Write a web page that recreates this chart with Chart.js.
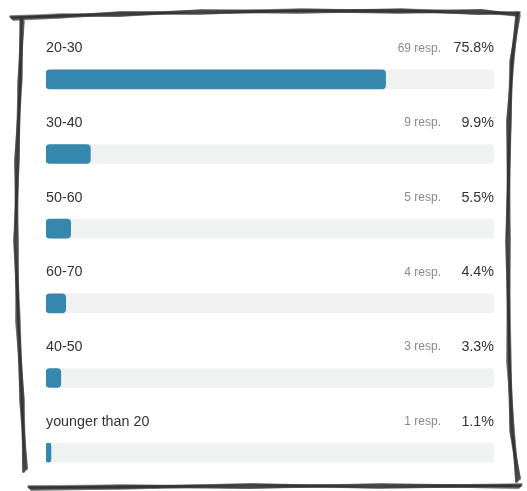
<!DOCTYPE html>
<html>
<head>
<meta charset="utf-8">
<script src="https://cdn.jsdelivr.net/npm/chart.js@4.4.0/dist/chart.umd.min.js"></script>
<style>
  html, body { margin: 0; padding: 0; background: #fff; }
  #wrap { width: 527px; height: 491px; position: relative; }
</style>
</head>
<body>
<div id="wrap"><canvas id="canvas"></canvas></div>
<script>
const categories = ['20-30', '30-40', '50-60', '60-70', '40-50', 'younger than 20'];
const responses = [69, 9, 5, 4, 3, 1];
const percents = [75.8, 9.9, 5.5, 4.4, 3.3, 1.1];
const track = [100, 100, 100, 100, 100, 100];

// the hand drawn frame round the card
function sketchLine(ctx, pts) {
    for (let pass = 0; pass < 7; pass++) {
        ctx.beginPath();
        pts.forEach(function (p, i) {
            let j = Math.sin(i * 2.3 + pass * 1.7) * 1.6;
            if (i === 0) ctx.moveTo(p[0] + j, p[1] + j);
            else ctx.lineTo(p[0] + j, p[1] - j);
        });
        ctx.lineWidth = 2.6;
        ctx.strokeStyle = pass % 2 ? 'rgba(80,80,80,0.5)' : 'rgba(40,40,40,0.55)';
        ctx.stroke();
    }
}

const framePlugin = {
    id: 'frame',
    afterDraw: function (chart) {
        let ctx = chart.ctx;
        ctx.save();
        ctx.lineCap = 'round';
        sketchLine(ctx, [[12, 18], [60, 16], [120, 14], [200, 12], [300, 11], [400, 11], [480, 12], [518, 14]]);
        sketchLine(ctx, [[22, 20], [20, 80], [17, 160], [16, 240], [18, 320], [22, 400], [25, 470]]);
        sketchLine(ctx, [[518, 14], [512, 60], [509, 120], [508, 240], [509, 360], [512, 430], [518, 480]]);
        sketchLine(ctx, [[30, 488], [120, 487], [250, 486], [380, 486], [520, 486]]);
        ctx.restore();
    }
};

const labelPlugin = {
    id: 'rowLabels',
    afterDatasetsDraw: function (chart) {
        let ctx = chart.ctx;
        let y = chart.scales.y;
        let x = chart.scales.x;
        ctx.save();
        ctx.textBaseline = 'middle';
        categories.forEach(function (c, i) {
            let cy = y.getPixelForValue(i) - 31;
            ctx.font = '14.3px "Liberation Sans", Arial, sans-serif';
            ctx.fillStyle = '#333';
            ctx.textAlign = 'left';
            ctx.fillText(c, x.left, cy);
            ctx.textAlign = 'right';
            ctx.fillText(percents[i] + '%', x.right, cy);
            ctx.font = '12px "Liberation Sans", Arial, sans-serif';
            ctx.fillStyle = '#8a8a8a';
            ctx.fillText(responses[i] + ' resp.', x.right - 53, cy);
        });
        ctx.restore();
    }
};

const ctx = document.getElementById('canvas').getContext('2d');
new Chart(ctx, {
    type: 'bar',
    data: {
        labels: categories,
        datasets: [{
            data: percents,
            backgroundColor: '#3587ad',
            borderRadius: 4,
            borderSkipped: false,
            barThickness: 19,
            grouped: false,
            order: 0
        }, {
            data: track,
            backgroundColor: '#f0f1f1',
            borderRadius: 4,
            borderSkipped: false,
            barThickness: 19,
            grouped: false,
            order: 1
        }]
    },
    options: {
        indexAxis: 'y',
        responsive: true,
        maintainAspectRatio: false,
        animation: false,
        layout: { padding: { top: 42, bottom: 1, left: 46, right: 33 } },
        plugins: { legend: { display: false }, tooltip: { enabled: false } },
        scales: {
            x: { display: false, min: 0, max: 100 },
            y: { display: false }
        }
    },
    plugins: [labelPlugin, framePlugin]
});
</script>
</body>
</html>
